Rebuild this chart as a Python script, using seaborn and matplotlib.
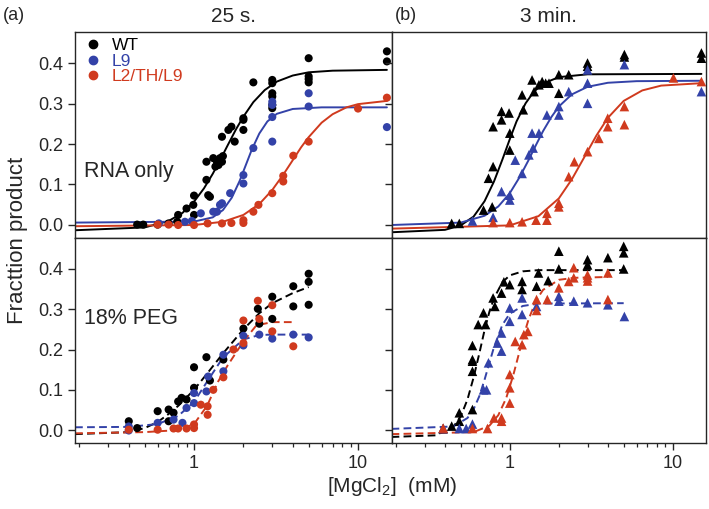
import numpy as np
import pandas as pd
import matplotlib
matplotlib.use("Agg")
import matplotlib.pyplot as plt
import seaborn as sns
from matplotlib.ticker import LogLocator, NullFormatter
from matplotlib.lines import Line2D

# ---------------- data ----------------
strains = ["WT", "L9", "L2/TH/L9"]
colors = ["#000000", "#3342a8", "#d03a1e"]
yticks = [0.0, 0.1, 0.2, 0.3, 0.4]
ytick_labels = ["0.0", "0.1", "0.2", "0.3", "0.4"]
xticks = [1, 10]
xtick_labels = ["1", "10"]

# 25 s, RNA only (points)
wt_25_rna_x = [0.45, 0.49, 0.60, 0.70, 0.79, 0.80, 0.90, 0.99, 1.0, 1.0, 1.19, 1.19, 1.22, 1.25, 1.31, 1.35,
               1.38, 1.41, 1.44, 1.48, 1.50, 1.48, 1.62, 1.69, 1.77, 2.0, 2.0, 2.0, 2.3, 3.0, 3.0, 3.0, 3.0,
               3.0, 3.0, 5.0, 5.0, 5.0, 5.0, 15, 15]
wt_25_rna_y = [0.0, 0.0, 0.0, 0.003, 0.007, 0.024, 0.040, 0.049, 0.072, 0.024, 0.156, 0.111, 0.073, 0.069, 0.165, 0.144,
               0.156, 0.148, 0.165, 0.156, 0.170, 0.218, 0.235, 0.243, 0.206, 0.26, 0.235, 0.264, 0.353, 0.359, 0.351, 0.326,
               0.318, 0.297, 0.289, 0.413, 0.368, 0.361, 0.353, 0.43, 0.405]
l9_25_rna_x = [0.61, 0.88, 0.97, 1.10, 1.31, 1.38, 1.44, 1.48, 1.66, 2.0, 2.0, 2.3, 3.0, 3.0, 3.0, 3.0, 5.0, 5.0, 15]
l9_25_rna_y = [0.003, 0.007, 0.009, 0.028, 0.032, 0.032, 0.049, 0.053, 0.078, 0.102, 0.123, 0.19, 0.305, 0.297,
               0.267, 0.206, 0.326, 0.293, 0.242]
l2_25_rna_x = [0.60, 0.70, 0.80, 1.0, 1.21, 1.48, 1.69, 2.0, 2.0, 2.3, 2.47, 3.0, 3.5, 3.5, 4.03, 5.0, 10, 15]
l2_25_rna_y = [0.0, 0.0, -0.001, -0.001, 0.003, 0.003, 0.004, 0.004, 0.011, 0.032, 0.049, 0.078, 0.107, 0.121,
               0.171, 0.206, 0.288, 0.315]

# 3 min, RNA only (points)
wt_3m_rna_x = [0.44, 0.49, 0.69, 0.78, 0.74, 0.79, 0.79, 0.89, 0.89, 0.99, 1.0, 1.0, 1.19, 1.21, 1.37, 1.41, 1.51,
               1.58, 1.66, 1.74, 2.0, 2.0, 2.3, 3.0, 3.0, 5.05, 5.05, 15, 15]
wt_3m_rna_y = [0.003, 0.003, 0.036, 0.044, 0.115, 0.144, 0.243, 0.26, 0.281, 0.277, 0.227, 0.185, 0.322, 0.285, 0.359,
               0.33, 0.347, 0.355, 0.351, 0.351, 0.372, 0.326, 0.372, 0.401, 0.393, 0.422, 0.416, 0.426, 0.413]
l9_3m_rna_x = [0.59, 0.79, 0.89, 1.0, 1.0, 1.08, 1.19, 1.31, 1.39, 1.37, 1.51, 1.69, 2.0, 2.0, 2.3, 3.0, 3.0, 3.0,
               5.05, 15]
l9_3m_rna_y = [0.009, 0.018, 0.082, 0.073, 0.061, 0.16, 0.127, 0.173, 0.19, 0.227, 0.227, 0.272, 0.293, 0.272, 0.33,
               0.384, 0.351, 0.301, 0.397, 0.33]
l2_3m_rna_x = [0.79, 1.0, 1.19, 1.45, 1.69, 1.69, 2.0, 2.0, 2.3, 2.49, 3.0, 3.52, 3.99, 3.99, 5.05, 5.05, 10.1, 15]
l2_3m_rna_y = [0.005, 0.005, 0.007, 0.011, 0.011, 0.028, 0.044, 0.053, 0.119, 0.156, 0.181, 0.214, 0.243, 0.264,
               0.293, 0.248, 0.364, 0.355]

# 25 s, 18% PEG (points)
wt_25_peg_x = [0.40, 0.45, 0.60, 0.70, 0.75, 0.70, 0.80, 0.84, 0.90, 1.0, 1.0, 1.19, 1.25, 1.51, 2.0, 2.45, 2.5,
               3.0, 3.0, 4.03, 4.03, 5.0, 5.0, 5.0]
wt_25_peg_y = [0.022, 0.005, 0.047, 0.051, 0.043, 0.022, 0.071, 0.08, 0.076, 0.156, 0.105, 0.181, 0.123, 0.175,
               0.252, 0.301, 0.264, 0.331, 0.276, 0.357, 0.307, 0.388, 0.368, 0.311]
l9_25_peg_x = [0.40, 0.40, 0.60, 0.75, 0.85, 0.90, 1.0, 1.0, 1.19, 1.22, 1.51, 1.51, 2.0, 2.0, 2.5, 3.0, 4.03, 5.0]
l9_25_peg_y = [0.009, -0.001, 0.018, 0.026, 0.018, 0.055, 0.067, 0.092, 0.096, 0.133, 0.187, 0.146, 0.21, 0.234,
               0.237, 0.227, 0.237, 0.23]
l2_25_peg_x = [0.40, 0.60, 0.75, 0.80, 0.90, 1.0, 1.0, 1.10, 1.21, 1.21, 1.31, 1.51, 1.74, 2.0, 2.0, 2.45, 2.5,
               3.0, 3.0, 4.03]
l2_25_peg_y = [0.001, 0.001, 0.004, 0.004, 0.004, 0.014, 0.005, 0.063, 0.059, 0.038, 0.1, 0.131, 0.2, 0.216,
               0.272, 0.321, 0.276, 0.31, 0.245, 0.208]

# 3 min, 18% PEG (points)
wt_3m_peg_x = [0.39, 0.44, 0.49, 0.49, 0.59, 0.59, 0.59, 0.59, 0.59, 0.64, 0.69, 0.71, 0.79, 0.81, 0.89, 0.92, 1.0,
               1.19, 1.19, 1.46, 1.5, 1.72, 2.0, 2.0, 3.0, 3.0, 4.0, 5.0, 5.0, 5.0]
wt_3m_peg_y = [0.004, 0.01, 0.022, 0.043, 0.051, 0.146, 0.171, 0.175, 0.21, 0.262, 0.291, 0.262, 0.328, 0.307,
               0.34, 0.368, 0.361, 0.369, 0.349, 0.357, 0.39, 0.371, 0.444, 0.40, 0.423, 0.41, 0.428, 0.456, 0.44, 0.40]
l9_3m_peg_x = [0.39, 0.49, 0.54, 0.59, 0.69, 0.72, 0.74, 0.84, 0.89, 0.89, 1.0, 1.0, 1.19, 1.19, 1.46, 2.0, 2.0,
               2.47, 3.0, 4.0, 5.05]
l9_3m_peg_y = [0.004, 0.004, 0.004, 0.015, 0.1, 0.1, 0.167, 0.216, 0.241, 0.196, 0.303, 0.27, 0.328, 0.287, 0.307,
               0.332, 0.32, 0.32, 0.316, 0.311, 0.282]
l2_3m_peg_x = [0.39, 0.59, 0.73, 0.80, 0.89, 0.89, 1.0, 1.0, 1.0, 1.08, 1.19, 1.22, 1.29, 1.46, 1.46, 1.7, 2.0, 2.3,
               2.47, 2.47, 3.0, 3.0, 3.0, 4.0, 4.0]
l2_3m_peg_y = [0.005, 0.004, 0.004, 0.03, 0.03, 0.022, 0.067, 0.105, 0.138, 0.22, 0.212, 0.237, 0.245, 0.324,
               0.297, 0.324, 0.353, 0.369, 0.378, 0.403, 0.378, 0.37, 0.385, 0.324, 0.39]

# fitted curves
fit_wt_25_rna_x = [0.188, 0.5, 0.7, 0.85, 1.0, 1.15, 1.3, 1.45, 1.6, 1.8, 2.0, 2.3, 2.7, 3.2, 4.0, 5.0, 7.0, 15]
fit_wt_25_rna_y = [-0.014, -0.007, 0.009, 0.029, 0.057, 0.090, 0.126, 0.162, 0.196, 0.236, 0.268, 0.304, 0.334,
                   0.355, 0.370, 0.378, 0.382, 0.384]
fit_l9_25_rna_x = [0.188, 1.0, 1.3, 1.5, 1.7, 1.9, 2.07, 2.25, 2.5, 2.8, 3.2, 4.0, 6.0, 15]
fit_l9_25_rna_y = [0.005, 0.0075, 0.018, 0.036, 0.067, 0.109, 0.148, 0.186, 0.226, 0.256, 0.275, 0.287, 0.291, 0.291]
fit_l2_25_rna_x = [0.188, 1.0, 1.5, 2.0, 2.5, 3.0, 3.5, 4.0, 4.5, 5.0, 6.0, 7.0, 8.5, 10, 15]
fit_l2_25_rna_y = [-0.004, -0.001, 0.007, 0.024, 0.051, 0.086, 0.124, 0.160, 0.192, 0.217, 0.253, 0.274, 0.291,
                   0.299, 0.307]

fit_wt_3m_rna_x = [0.188, 0.4, 0.5, 0.6, 0.7, 0.8, 0.9, 1.0, 1.1, 1.25, 1.4, 1.6, 2.0, 3.0, 15]
fit_wt_3m_rna_y = [-0.019, -0.013, -0.002, 0.020, 0.058, 0.107, 0.161, 0.212, 0.256, 0.301, 0.329, 0.350, 0.366,
                   0.373, 0.374]
fit_l9_3m_rna_x = [0.188, 0.5, 0.7, 0.85, 1.0, 1.15, 1.3, 1.45, 1.6, 1.8, 2.0, 2.4, 3.0, 4.0, 6.0, 15]
fit_l9_3m_rna_y = [-0.001, 0.005, 0.022, 0.045, 0.078, 0.118, 0.159, 0.198, 0.232, 0.267, 0.293, 0.323, 0.342,
                   0.352, 0.356, 0.357]
fit_l2_3m_rna_x = [0.188, 1.0, 1.5, 2.0, 2.4, 2.9, 3.4, 4.0, 5.0, 6.5, 8.5, 15]
fit_l2_3m_rna_y = [-0.01, -0.002, 0.021, 0.065, 0.112, 0.171, 0.221, 0.265, 0.307, 0.333, 0.345, 0.351]

fit_wt_25_peg_x = [0.188, 0.4, 0.5, 0.6, 0.7, 0.8, 1.0, 1.2, 1.5, 2.0, 2.5, 3.0, 4.0, 5.0]
fit_wt_25_peg_y = [-0.01, -0.005, 0.005, 0.02, 0.04, 0.06, 0.10, 0.14, 0.19, 0.25, 0.29, 0.315, 0.34, 0.355]
fit_l9_25_peg_x = [0.188, 0.4, 0.6, 0.8, 1.0, 1.2, 1.5, 2.0, 2.5, 3.0, 5.0]
fit_l9_25_peg_y = [0.007, 0.008, 0.015, 0.035, 0.07, 0.12, 0.18, 0.225, 0.236, 0.237, 0.237]
fit_l2_25_peg_x = [0.188, 0.5, 0.8, 1.0, 1.2, 1.4, 1.6, 2.0, 2.4, 3.0, 4.0]
fit_l2_25_peg_y = [-0.008, -0.005, 0.0, 0.015, 0.06, 0.12, 0.16, 0.22, 0.26, 0.268, 0.268]

fit_wt_3m_peg_x = [0.188, 0.35, 0.45, 0.5, 0.55, 0.6, 0.65, 0.7, 0.75, 0.8, 0.9, 1.0, 1.2, 1.5, 5.0]
fit_wt_3m_peg_y = [-0.017, -0.013, 0.008, 0.034, 0.076, 0.131, 0.19, 0.248, 0.294, 0.327, 0.367, 0.384, 0.394,
                   0.397, 0.397]
fit_l9_3m_peg_x = [0.188, 0.45, 0.55, 0.6, 0.65, 0.7, 0.75, 0.8, 0.9, 1.0, 1.2, 1.5, 5.0]
fit_l9_3m_peg_y = [0.003, 0.009, 0.03, 0.052, 0.084, 0.125, 0.167, 0.206, 0.261, 0.289, 0.308, 0.314, 0.315]
fit_l2_3m_peg_x = [0.188, 0.6, 0.75, 0.85, 0.95, 1.05, 1.13, 1.2, 1.3, 1.45, 1.6, 2.0, 2.5, 4.0]
fit_l2_3m_peg_y = [-0.01, -0.005, 0.011, 0.037, 0.079, 0.136, 0.185, 0.226, 0.273, 0.322, 0.348, 0.373, 0.378, 0.38]

# ---------------- tables ----------------
panels = ["25s_rna", "3m_rna", "25s_peg", "3m_peg"]
pts = {
    "25s_rna": [(wt_25_rna_x, wt_25_rna_y), (l9_25_rna_x, l9_25_rna_y), (l2_25_rna_x, l2_25_rna_y)],
    "3m_rna": [(wt_3m_rna_x, wt_3m_rna_y), (l9_3m_rna_x, l9_3m_rna_y), (l2_3m_rna_x, l2_3m_rna_y)],
    "25s_peg": [(wt_25_peg_x, wt_25_peg_y), (l9_25_peg_x, l9_25_peg_y), (l2_25_peg_x, l2_25_peg_y)],
    "3m_peg": [(wt_3m_peg_x, wt_3m_peg_y), (l9_3m_peg_x, l9_3m_peg_y), (l2_3m_peg_x, l2_3m_peg_y)],
}
fits = {
    "25s_rna": [(fit_wt_25_rna_x, fit_wt_25_rna_y), (fit_l9_25_rna_x, fit_l9_25_rna_y), (fit_l2_25_rna_x, fit_l2_25_rna_y)],
    "3m_rna": [(fit_wt_3m_rna_x, fit_wt_3m_rna_y), (fit_l9_3m_rna_x, fit_l9_3m_rna_y), (fit_l2_3m_rna_x, fit_l2_3m_rna_y)],
    "25s_peg": [(fit_wt_25_peg_x, fit_wt_25_peg_y), (fit_l9_25_peg_x, fit_l9_25_peg_y), (fit_l2_25_peg_x, fit_l2_25_peg_y)],
    "3m_peg": [(fit_wt_3m_peg_x, fit_wt_3m_peg_y), (fit_l9_3m_peg_x, fit_l9_3m_peg_y), (fit_l2_3m_peg_x, fit_l2_3m_peg_y)],
}


def long_table(d):
    rows = []
    for p in panels:
        for s, (xs, ys) in zip(strains, d[p]):
            for xv, yv in zip(xs, ys):
                rows.append((p, s, xv, yv))
    return pd.DataFrame(rows, columns=["panel", "strain", "x", "y"])


df_pts = long_table(pts)
df_fit = long_table(fits)
palette = dict(zip(strains, colors))

# ---------------- figure ----------------
sns.set_style("ticks")
plt.rcParams["font.family"] = ["Liberation Sans", "DejaVu Sans"]
plt.rcParams["mathtext.default"] = "regular"
plt.rcParams["axes.linewidth"] = 1.0

fig = plt.figure(figsize=(7.09, 5.09), dpi=100)
W, H = 709.0, 509.0
xl, xm, xr = 75 / W, 391.5 / W, 706 / W
yt, ymid, yb = 1 - 32 / H, 1 - 237.5 / H, 1 - 443 / H
rects = {
    "25s_rna": [xl, ymid, xm - xl, yt - ymid],
    "3m_rna": [xm, ymid, xr - xm, yt - ymid],
    "25s_peg": [xl, yb, xm - xl, ymid - yb],
    "3m_peg": [xm, yb, xr - xm, ymid - yb],
}
markers = {"25s_rna": "o", "25s_peg": "o", "3m_rna": "^", "3m_peg": "^"}
lstyle = {"25s_rna": "-", "3m_rna": "-", "25s_peg": (0, (4, 2.2)), "3m_peg": (0, (4, 2.2))}

axes = {}
for p in panels:
    ax = fig.add_axes(rects[p])
    axes[p] = ax
    sub_f = df_fit[df_fit.panel == p]
    for s in strains:
        g = sub_f[sub_f.strain == s]
        sns.lineplot(data=g, x="x", y="y", color=palette[s], estimator=None, sort=True,
                     linewidth=1.4, linestyle=lstyle[p], ax=ax, legend=False, zorder=2)
    sub_p = df_pts[df_pts.panel == p]
    sns.scatterplot(data=sub_p, x="x", y="y", hue="strain", palette=palette, hue_order=strains,
                    marker=markers[p], s=34 if markers[p] == "o" else 48, linewidth=0,
                    ax=ax, legend=False, zorder=3)
    ax.set_xscale("log")
    ax.set_xlim(0.188, 16)
    ax.set_ylim(-0.032, 0.478)
    ax.set_xlabel("")
    ax.set_ylabel("")
    ax.set_xticks(xticks)
    ax.xaxis.set_minor_locator(LogLocator(base=10, subs=np.arange(2, 10)))
    ax.xaxis.set_minor_formatter(NullFormatter())
    ax.set_yticks(yticks)
    ax.tick_params(axis="both", which="major", direction="out", length=5, width=1, labelsize=13)
    ax.tick_params(axis="x", which="minor", direction="out", length=3, width=0.9)
    if p in ("25s_peg", "3m_peg"):
        ax.set_xticklabels(xtick_labels)
    else:
        ax.set_xticklabels([])
    if p in ("25s_rna", "25s_peg"):
        ax.set_yticklabels(ytick_labels)
    else:
        ax.set_yticklabels([])
    for sp in ax.spines.values():
        sp.set_linewidth(1.0)
        sp.set_visible(True)

# legend
handles = [Line2D([], [], marker="o", linestyle="none", color=c, markersize=6) for c in colors]
leg = axes["25s_rna"].legend(handles, strains, loc="upper left", bbox_to_anchor=(0.0, 1.02),
                             frameon=False, fontsize=12.5, handlelength=0.9, handletextpad=0.6,
                             labelspacing=0.0, borderaxespad=0.2)
for t, c in zip(leg.get_texts(), colors):
    t.set_color(c)

fig.text(84 / W, 1 - 177 / H, "RNA only", fontsize=15.5, ha="left", va="baseline")
fig.text(84 / W, 1 - 324 / H, "18% PEG", fontsize=15.5, ha="left", va="baseline")

fig.text(3 / W, 1 - 16 / H, "(a)", fontsize=13, ha="left", va="center")
fig.text(395 / W, 1 - 16 / H, "(b)", fontsize=13, ha="left", va="center")
fig.text((75 + 391.5) / 2 / W, 1 - 17 / H, "25 s.", fontsize=15, ha="center", va="center")
fig.text((391.5 + 706) / 2 / W, 1 - 17 / H, "3 min.", fontsize=15, ha="center", va="center")
fig.text(18 / W, 1 - 240 / H, "Fracttion product", fontsize=16, rotation=90, ha="center", va="center")
fig.text(392 / W, 1 - 487 / H, "[MgCl$_2$]  (mM)", fontsize=15, ha="center", va="center")

fig.savefig("out.png", dpi=100)
